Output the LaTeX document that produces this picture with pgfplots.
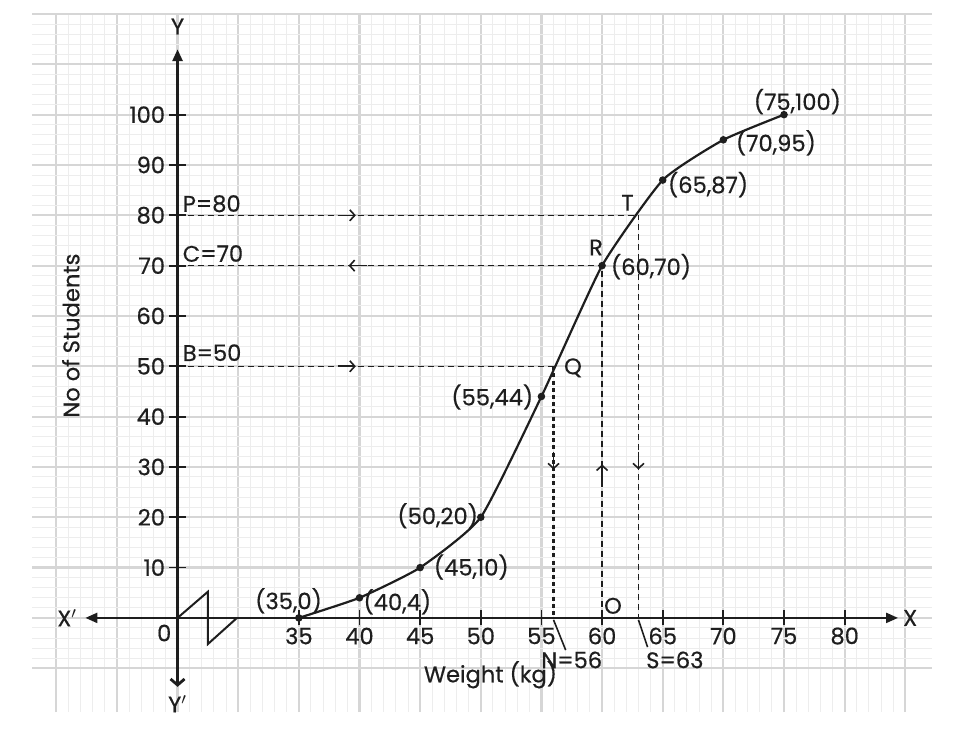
\documentclass[border=0pt]{standalone}
\usepackage{pgfplots}
\pgfplotsset{compat=1.18}
\usepackage{fontspec}
\setmainfont{Poppins}[FakeBold=0.5]
\usetikzlibrary{arrows.meta}

\definecolor{ink}{HTML}{1E1E1E}

\begin{document}
\begin{tikzpicture}[
    dashline/.style={ink, line width=0.75pt, dash pattern=on 3pt off 2pt},
    dashbold/.style={ink, line width=1.2pt, dash pattern=on 2pt off 1.6pt},
    barb/.style={ink, line width=0.8pt, -{Straight Barb[length=2.5pt,width=5.5pt]}},
    lbl/.style={ink, inner sep=0pt},
  ]
  \begin{axis}[
      scale only axis,
      width=450pt, height=349pt,
      xmin=-12, xmax=62.2,
      ymin=-18.7, ymax=120,
      xtick={-10,-5,...,60},
      ytick={-10,0,...,120},
      minor x tick num=4,
      minor y tick num=4,
      grid=both,
      major grid style={line width=1.1pt, color=black!16},
      minor grid style={line width=0.5pt, color=black!7},
      axis line style={draw=none},
      tick style={draw=none},
      xticklabels={}, yticklabels={},
      clip=false,
      font=\fontsize{11.3}{13}\selectfont,
    ]

    % axes (the x axis is broken between 0 and 35)
    \draw[ink, line width=1.1pt, {Triangle[length=6pt,width=5pt]}-{Triangle[length=6pt,width=5pt]}]
      (axis cs:-7.6,0) -- (axis cs:59.4,0);
    \draw[ink, line width=1.4pt, {Straight Barb[length=3pt,width=7pt]}-{Triangle[length=6pt,width=5pt]}]
      (axis cs:0,-13.7) -- (axis cs:0,113);
    \draw[ink, line width=1pt] (axis cs:0,0) -- (axis cs:2.5,5.2) -- (axis cs:2.5,-5.2) -- (axis cs:4.9,0);

    % ticks
    \pgfplotsinvokeforeach{10,15,...,55}{
      \draw[ink, line width=0.9pt] (axis cs:#1,-1.5) -- (axis cs:#1,1.5);
    }
    \pgfplotsinvokeforeach{10,20,...,100}{
      \draw[ink, line width=0.9pt] (axis cs:-0.7,#1) -- (axis cs:0.7,#1);
    }

    % tick labels (x shown as real weights: position + 25)
    \node[lbl] at (axis cs:10,-3.6) {35};
    \node[lbl] at (axis cs:15,-3.6) {40};
    \node[lbl] at (axis cs:20,-3.6) {45};
    \node[lbl] at (axis cs:25,-3.6) {50};
    \node[lbl] at (axis cs:30,-3.6) {55};
    \node[lbl] at (axis cs:35,-3.6) {60};
    \node[lbl] at (axis cs:40,-3.6) {65};
    \node[lbl] at (axis cs:45,-3.6) {70};
    \node[lbl] at (axis cs:50,-3.6) {75};
    \node[lbl] at (axis cs:55,-3.6) {80};
    \node[lbl] at (axis cs:-1.1,-3.0) {0};
    \node[lbl, anchor=east] at (axis cs:-1.0,10) {10};
    \node[lbl, anchor=east] at (axis cs:-1.0,20) {20};
    \node[lbl, anchor=east] at (axis cs:-1.0,30) {30};
    \node[lbl, anchor=east] at (axis cs:-1.0,40) {40};
    \node[lbl, anchor=east] at (axis cs:-1.0,50) {50};
    \node[lbl, anchor=east] at (axis cs:-1.0,60) {60};
    \node[lbl, anchor=east] at (axis cs:-1.0,70) {70};
    \node[lbl, anchor=east] at (axis cs:-1.0,80) {80};
    \node[lbl, anchor=east] at (axis cs:-1.0,90) {90};
    \node[lbl, anchor=east] at (axis cs:-1.0,100) {100};

    % axis names
    \node[lbl] at (axis cs:-9.1,0) {X$'$};
    \node[lbl] at (axis cs:60.4,0) {X};
    \node[lbl] at (axis cs:0,117.5) {Y};
    \node[lbl] at (axis cs:0,-17.1) {Y$'$};
    \node[lbl] at (axis cs:25.8,-11.3) {Weight (kg)};
    \node[lbl, rotate=90] at (axis cs:-8.8,56.1) {No of Students};

    % reading lines
    \addplot[dashline] coordinates {(0,80) (38,80) (38,0)};
    \addplot[dashline] coordinates {(0,70) (35,70) (35,0)};
    \addplot[dashline] coordinates {(0,50) (31,50)};
    \addplot[dashbold] coordinates {(31,50) (31,0)};

    \draw[barb] (axis cs:13.2,80) -- (axis cs:14.7,80);
    \draw[barb] (axis cs:15.6,70) -- (axis cs:14.1,70);
    \draw[barb] (axis cs:13.2,50) -- (axis cs:14.7,50);
    \draw[barb] (axis cs:31,33) -- (axis cs:31,29.5);
    \draw[barb] (axis cs:35,27) -- (axis cs:35,30.5);
    \draw[barb] (axis cs:38,33) -- (axis cs:38,29.5);

    % ogive
    \addplot[ink, line width=1.1pt, smooth, tension=0.3, mark=*, mark size=1.3pt]
      coordinates {
        (10,0) (15,4) (20,10) (25,20) (30,44) (35,70) (40,87) (45,95) (50,100)
      };

    % point labels
    \node[lbl] at (axis cs:9.15,3.4) {(35,0)};
    \node[lbl, anchor=west] at (axis cs:15.3,3.2) {(40,4)};
    \node[lbl, anchor=west] at (axis cs:21.1,10.1) {(45,10)};
    \node[lbl, anchor=east] at (axis cs:24.8,20.3) {(50,20)};
    \node[lbl, anchor=east] at (axis cs:29.35,43.9) {(55,44)};
    \node[lbl, anchor=west] at (axis cs:35.7,69.8) {(60,70)};
    \node[lbl, anchor=west] at (axis cs:40.4,86.1) {(65,87)};
    \node[lbl, anchor=west] at (axis cs:46.0,94.4) {(70,95)};
    \node[lbl] at (axis cs:51.1,102.6) {(75,100)};

    \node[lbl] at (axis cs:32.6,49.7) {Q};
    \node[lbl] at (axis cs:34.5,73.6) {R};
    \node[lbl] at (axis cs:37.1,82.5) {T};
    \node[lbl] at (axis cs:35.9,2.4) {O};

    \node[lbl, anchor=west] at (axis cs:0.4,82.3) {P=80};
    \node[lbl, anchor=west] at (axis cs:0.4,72.4) {C=70};
    \node[lbl, anchor=west] at (axis cs:0.4,52.7) {B=50};

    \draw[ink, line width=0.8pt] (axis cs:31,-0.4) -- (axis cs:32,-6.4);
    \draw[ink, line width=0.8pt] (axis cs:38,-0.4) -- (axis cs:38.75,-5.8);
    \node[lbl] at (axis cs:32.5,-8.35) {N=56};
    \node[lbl] at (axis cs:41.0,-8.35) {S=63};
  \end{axis}
  \path ([shift={(-16pt,-14.5pt)}]current axis.south west)
    rectangle ([shift={(14.5pt,7pt)}]current axis.north east);
\end{tikzpicture}
\end{document}
